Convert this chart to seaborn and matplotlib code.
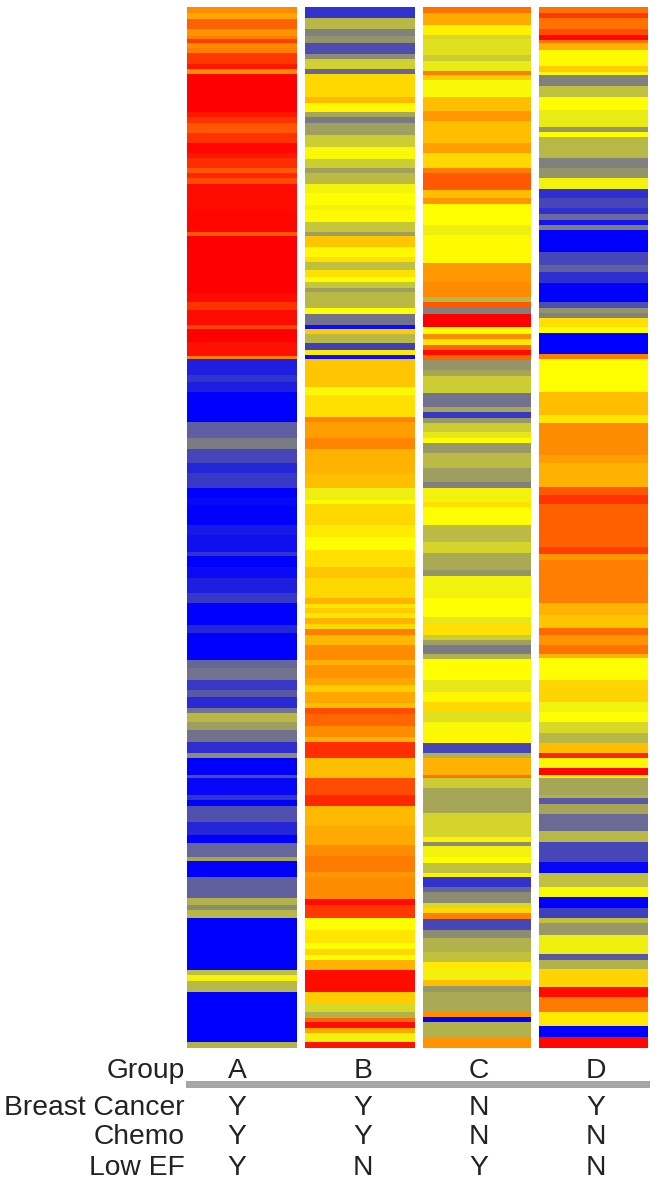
import numpy as np
import pandas as pd
import matplotlib
matplotlib.use('Agg')
import matplotlib.pyplot as plt
from matplotlib.colors import LinearSegmentedColormap
import seaborn as sns

# each strip as (number of rows, expression level), read top to bottom
strip_a = [(6,.45),(6,.35),(10,.62),(7,.42),(3,.5),(4,.75),(5,.45),(5,.5),(11,.78),(5,.9),(5,.45),
           (38,1),(5,.9),(6,.8),(10,.65),(10,.8),(10,.97),(5,.9),(10,.82),(5,.65),(5,.85),(6,.7),
           (26,.95),(22,.97),(4,.65),(57,1),(9,.95),(8,.8),(15,.95),(4,.72),(13,1),(14,.93),(3,.5),
           (16,-.88),(7,-.8),(10,-.88),(30,-1),(16,-.63),(11,-.52),(14,-.72),(10,-.85),(15,-.78),
           (10,-1),(7,-.97),(20,-1),(10,-.9),(17,-.93),(4,-.8),(11,-1),(11,-.96),(15,-.88),(10,-.78),
           (22,-1),(8,-.85),(27,-1),(8,-.6),(12,-.55),(10,-.78),(7,-.65),(11,-.83),(5,-.55),(9,-.28),
           (8,-.38),(12,-.55),(11,-.82),(5,-.45),(17,-1),(3,-.7),(17,-.97),(5,-.8),(6,-1),(16,-.68),
           (13,-.85),(8,-1),(14,-.6),(4,-.35),(16,-1),(21,-.62),(7,-.3),(5,-.45),(8,-.28),(52,-1),
           (5,-.25),(6,-.05),(11,-.28),(50,-1),(6,-.3)]

strip_b = [(11,-.8),(11,-.28),(7,-.5),(7,-.42),(11,-.7),(5,-.45),(10,-.18),(5,-.6),(23,.15),(6,.27),
           (9,.03),(5,-.35),(6,-.52),(12,-.37),(12,-.2),(12,-.03),(9,-.2),(5,-.37),(11,-.27),(9,-.04),
           (12,0),(5,-.05),(12,.02),(10,-.22),(4,-.38),(11,.22),(10,.03),(5,.12),(8,-.25),(7,.12),
           (5,0),(6,-.22),(4,-.38),(16,-.28),(6,0),(11,-.55),(4,-.95),(5,.2),(9,-.28),(7,-.75),(5,.08),
           (4,-.95),(28,.22),(8,-.03),(22,.12),(5,.48),(16,.38),(11,.48),(24,.3),(15,.25),(12,-.07),
           (4,0),(21,.15),(12,.08),(13,0),(17,.12),(11,.22),(20,.15),(6,.3),(4,.1),(5,.2),(5,.1),(6,.3),
           (5,.15),(6,.5),(10,.28),(15,.45),(5,.3),(13,.42),(7,.35),(7,.2),(11,.35),(5,.25),(6,.7),
           (12,.6),(11,.45),(5,.3),(16,.82),(20,.25),(17,.7),(11,.85),(20,.27),(19,.33),(11,.45),
           (16,.52),(5,.4),(22,.45),(6,.95),(13,.78),(12,0),(13,.1),(6,0),(6,.15),(5,0),(10,.3),
           (22,.95),(11,.2),(9,-.15),(6,-.3),(4,.6),(6,.95),(5,.35),(9,-.05),(6,.92)]

strip_c = [(6,.55),(12,.33),(10,.05),(4,-.15),(16,-.12),(6,-.2),(10,-.08),(4,.5),(5,.2),(17,-.03),
           (14,.25),(10,.4),(22,.25),(10,.37),(15,.15),(5,.5),(17,.65),(8,.25),(6,.42),(21,0),(10,-.07),
           (28,.02),(19,.4),(15,.45),(5,-.28),(6,.65),(6,-.5),(13,1),(7,0),(5,.45),(6,.1),(5,.6),(5,.95),
           (5,.6),(10,-.42),(6,-.35),(17,-.2),(14,-.55),(5,-.35),(6,-.78),(5,-.4),(9,-.2),(6,-.1),(5,0),
           (10,-.4),(15,-.27),(14,-.38),(6,-.5),(14,-.05),(5,.12),(18,0),(17,-.27),(11,-.17),(17,-.33),
           (6,-.42),(22,-.05),(19,0),(6,-.1),(12,.12),(5,-.2),(5,-.38),(9,-.52),(5,-.3),(21,0),(12,-.1),
           (10,.03),(10,.15),(10,-.12),(11,-.03),(10,.03),(10,-.72),(5,-.3),(17,.3),(3,.55),(10,-.2),
           (25,-.35),(24,-.17),(5,.05),(4,-.45),(11,-.05),(6,0),(10,-.25),(4,.05),(10,-.8),(5,-.6),
           (11,-.45),(5,-.15),(5,.15),(6,.5),(11,-.72),(8,-.45),(14,-.3),(10,-.25),(7,.08),(11,-.05),
           (6,.25),(6,-.4),(20,-.33),(5,.45),(5,-1),(15,-.3),(11,.42)]

strip_d = [(6,.55),(5,.78),(11,.55),(6,.7),(5,.97),(3,.55),(7,.3),(16,.02),(6,.2),(3,-.03),(11,-.5),
           (11,-.25),(13,0),(17,-.08),(5,-.4),(5,0),(21,-.28),(10,-.5),(10,-.42),(11,-.05),(9,-.82),
           (10,-.72),(6,-.82),(6,-.58),(5,-.92),(5,-.5),(22,-1),(13,-.72),(7,-.62),(11,-.82),(19,-1),
           (6,-.7),(5,-.42),(5,-.5),(9,.12),(6,0),(21,-1),(5,.5),(33,0),(23,.25),(8,.1),(32,.45),(8,.38),
           (24,.3),(8,.65),(9,.8),(43,.62),(7,.75),(6,.4),(43,.5),(12,.3),(13,.22),(7,.58),(10,.42),
           (9,.55),(4,.3),(22,0),(22,.17),(10,-.05),(10,0),(11,-.15),(10,-.28),(10,.25),(5,.85),(10,.03),
           (7,.97),(3,.05),(17,-.35),(3,-.3),(6,-.65),(10,-.35),(17,-.58),(11,-.28),(20,-.72),(11,-.97),
           (14,-.25),(10,-.02),(11,-1),(10,-.75),(5,-.25),(12,-.4),(19,-.06),(6,-.65),(9,-.3),(18,.17),
           (10,.95),(15,.52),(14,.08),(11,-1),(11,.97)]

groups = ['A', 'B', 'C', 'D']
strips = [strip_a, strip_b, strip_c, strip_d]
row_labels = ['Breast Cancer', 'Chemo', 'Low EF']
breast_cancer = ['Y', 'Y', 'N', 'Y']
chemo = ['Y', 'Y', 'N', 'N']
low_ef = ['Y', 'N', 'Y', 'N']

W, H = 658, 1184


def px_box(x0, y0, x1, y1):
    return [x0 / W, 1 - y1 / H, (x1 - x0) / W, (y1 - y0) / H]


sns.set_theme(style='white')
plt.rcParams['font.family'] = ['Liberation Sans', 'DejaVu Sans']

cmap = LinearSegmentedColormap.from_list('byr', ['#0000ff', '#ffff00', '#ff0000'])
fig = plt.figure(figsize=(W / 100, H / 100), dpi=100, facecolor='white')

# pixel extents of the four strips
strip_x = [(187, 297), (305, 415), (423, 531), (539, 648)]
centers = [237, 363, 479, 596]

for group, strip, (x0, x1) in zip(groups, strips, strip_x):
    runs = np.array([r[0] for r in strip])
    vals = np.array([r[1] for r in strip])
    df = pd.DataFrame({group: np.repeat(vals, runs)})
    ax = fig.add_axes(px_box(x0, 7, x1, 1048))
    sns.heatmap(df, cmap=cmap, vmin=-1, vmax=1, cbar=False, ax=ax,
                xticklabels=False, yticklabels=False, rasterized=True)

fs = 20.3
fig.text(185 / W, 1 - 1078 / H, 'Group', ha='right', va='baseline', fontsize=fs, color='#222222')
for cx, g in zip(centers, groups):
    fig.text(cx / W, 1 - 1078 / H, g, ha='center', va='baseline', fontsize=fs, color='#222222')

fig.add_artist(plt.Rectangle((186 / W, 1 - 1088 / H), 464 / W, 7 / H,
                             transform=fig.transFigure, color='#a6a6a6', lw=0))

rows = [breast_cancer, chemo, low_ef]
for label, row, base in zip(row_labels, rows, [1115, 1144, 1175]):
    fig.text(185 / W, 1 - base / H, label, ha='right', va='baseline', fontsize=fs, color='#222222')
    for cx, v in zip(centers, row):
        fig.text(cx / W, 1 - base / H, v, ha='center', va='baseline', fontsize=fs, color='#222222')

fig.savefig('out.png', dpi=100)
